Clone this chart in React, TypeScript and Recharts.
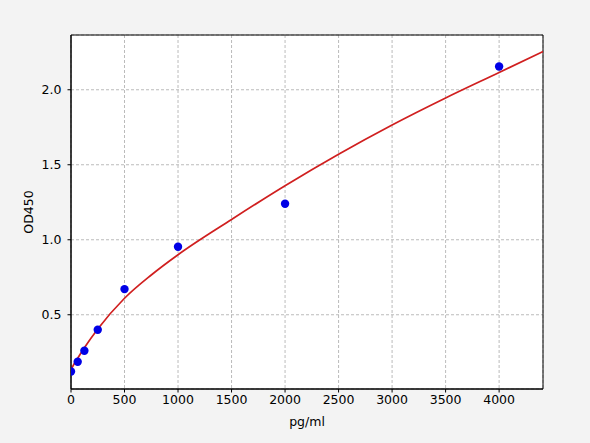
import React from 'react';
import { ComposedChart, Line, Scatter, XAxis, YAxis, CartesianGrid, ReferenceArea, Label } from 'recharts';

const concentrations = [0, 62.5, 125, 250, 500, 1000, 2000, 4000];
const odValues = [0.122, 0.187, 0.26, 0.4, 0.671, 0.953, 1.24, 2.155];

const curveX = [0, 31, 62.5, 125, 250, 500, 750, 1000, 1500, 2000, 2500, 3000, 3500, 4000, 4410];
const curveY = [0.133, 0.175, 0.21, 0.28, 0.405, 0.61, 0.765, 0.9, 1.135, 1.36, 1.57, 1.765, 1.945, 2.115, 2.255];

const xTicks = [0, 500, 1000, 1500, 2000, 2500, 3000, 3500, 4000];
const yTicks = [0.5, 1.0, 1.5, 2.0];
const xDomain: [number, number] = [0, 4410];
const yDomain: [number, number] = [0.005, 2.365];

const points = concentrations.map((x, i) => ({ x, y: odValues[i] }));
const curve = curveX.map((x, i) => ({ x, y: curveY[i] }));

const FONT = '"DejaVu Sans", sans-serif';

const YLabel = (props: any) => {
  const vb = props.viewBox || { x: 0, y: 35, width: 71, height: 354 };
  const cx = vb.x + 28;
  const cy = vb.y + vb.height / 2;
  return (
    <text
      x={cx}
      y={cy}
      transform={`rotate(-90, ${cx}, ${cy})`}
      textAnchor="middle"
      dominantBaseline="central"
      fill="#000"
      fontSize={12.5}
      fontFamily={FONT}
    >
      OD450
    </text>
  );
};

export default function App() {
  return (
    <div style={{ position: 'fixed', left: 0, top: 0, width: 590, height: 443, background: '#f3f3f3' }}>
      <ComposedChart width={590} height={443} margin={{ top: 35, right: 47, bottom: 0, left: 0 }}>
        <CartesianGrid stroke="#aaaaaa" strokeDasharray="3 2" strokeWidth={0.8} fill="#ffffff" fillOpacity={1} />
        <XAxis
          type="number"
          dataKey="x"
          domain={xDomain}
          ticks={xTicks}
          allowDataOverflow
          height={54}
          tickSize={3.5}
          tickMargin={3}
          stroke="#000"
          tick={{ fill: '#000', fontSize: 12.5, fontFamily: FONT }}
          tickLine={{ stroke: '#000' }}
          label={{ value: 'pg/ml', position: 'insideBottom', offset: 17, fill: '#000', fontSize: 12.5, fontFamily: FONT }}
        />
        <YAxis
          type="number"
          dataKey="y"
          domain={yDomain}
          ticks={yTicks}
          allowDataOverflow
          width={71}
          tickSize={3.5}
          tickMargin={6}
          stroke="#000"
          tickFormatter={(v: number) => v.toFixed(1)}
          tick={{ fill: '#000', fontSize: 12.5, fontFamily: FONT }}
          tickLine={{ stroke: '#000' }}
        >
          <Label content={YLabel} />
        </YAxis>
        <ReferenceArea x1={xDomain[0]} x2={xDomain[1]} y1={yDomain[0]} y2={yDomain[1]} fill="none" stroke="#000" strokeWidth={1} ifOverflow="visible" />
        <Line
          data={curve}
          dataKey="y"
          type="monotone"
          stroke="#d01f1f"
          strokeWidth={1.7}
          dot={false}
          isAnimationActive={false}
        />
        <Scatter data={points} dataKey="y" fill="#0000e6" isAnimationActive={false} shape={(p: any) => <circle cx={p.cx} cy={p.cy} r={4.2} fill="#0000e6" />} />
      </ComposedChart>
    </div>
  );
}
